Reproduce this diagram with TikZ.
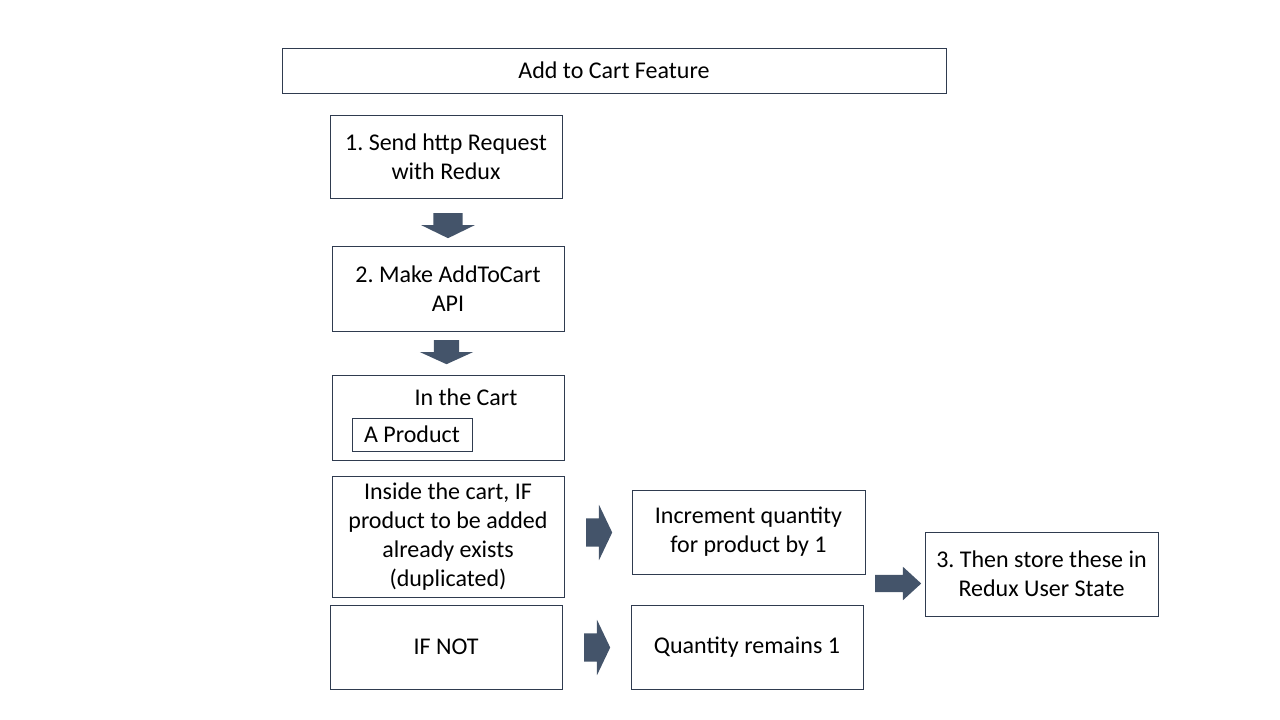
\documentclass[tikz,border=0pt]{standalone}
\usepackage{fontspec}
\setmainfont{Carlito}
\frenchspacing
\usetikzlibrary{shapes,arrows,positioning,calc}
\definecolor{boxline}{HTML}{2F3B4F}
\definecolor{arrowfill}{HTML}{44546A}

\tikzset{
  stepbox/.style={draw=boxline, line width=1pt, minimum width=232pt, minimum height=84pt, inner sep=2pt, align=center, font=\fontsize{24}{29}\selectfont},
  blockarrow/.style={single arrow, fill=arrowfill, draw=none, inner xsep=0pt, text width=0pt, anchor=tail}
}

\begin{document}
\begin{tikzpicture}[x=1pt,y=-1pt]
\useasboundingbox (0,0) rectangle (1280,720);

\node [stepbox, minimum width=664pt, minimum height=45pt] (title) at (614,70.5) {Add to Cart Feature};

\node [stepbox, minimum height=83pt] (send) at (446,156.5) {1. Send http Request\\with Redux};
\node [stepbox, minimum height=85pt] (api) at (448,288.5) {2. Make AddToCart\\API};

\node [stepbox, minimum height=85pt] (cart) at (448,417.5) {};
\node [font=\fontsize{24}{29}\selectfont] (cartlabel) at (466,397) {In the Cart};
\node [stepbox, minimum width=120pt, minimum height=33pt] (product) at (412,434.5) {A Product};

\node [stepbox, minimum height=121pt] (exists) at (448,536.5) {Inside the cart, IF\\product to be added\\already exists\\(duplicated)};
\node [stepbox] (ifnot) at (446,647) {IF NOT};

\node [stepbox, minimum width=233pt] (incr) at (748.5,532) {Increment quantity\\for product by 1};
\node [stepbox] (remains) at (747,647) {Quantity remains 1};
\node [stepbox, minimum width=233pt] (store) at (1041.5,574) {3. Then store these in\\Redux User State};

% block arrows
\node [blockarrow, rotate=-90, inner ysep=14.5pt, single arrow head extend=12pt, single arrow tip angle=128, minimum height=25pt] (a1) at (448,213) {};
\node [blockarrow, rotate=-90, inner ysep=12.5pt, single arrow head extend=14pt, single arrow tip angle=131, minimum height=24pt] (a2) at (446.5,340) {};
\node [blockarrow, inner ysep=14pt, single arrow head extend=13.5pt, single arrow tip angle=129, minimum height=26pt] (a3) at (586,532.5) {};
\node [blockarrow, inner ysep=14pt, single arrow head extend=13.5pt, single arrow tip angle=129, minimum height=26pt] (a4) at (584,647.5) {};
\node [blockarrow, inner ysep=8.5pt, single arrow head extend=8pt, single arrow tip angle=85, minimum height=46pt] (a5) at (875,583.5) {};
\end{tikzpicture}
\end{document}
